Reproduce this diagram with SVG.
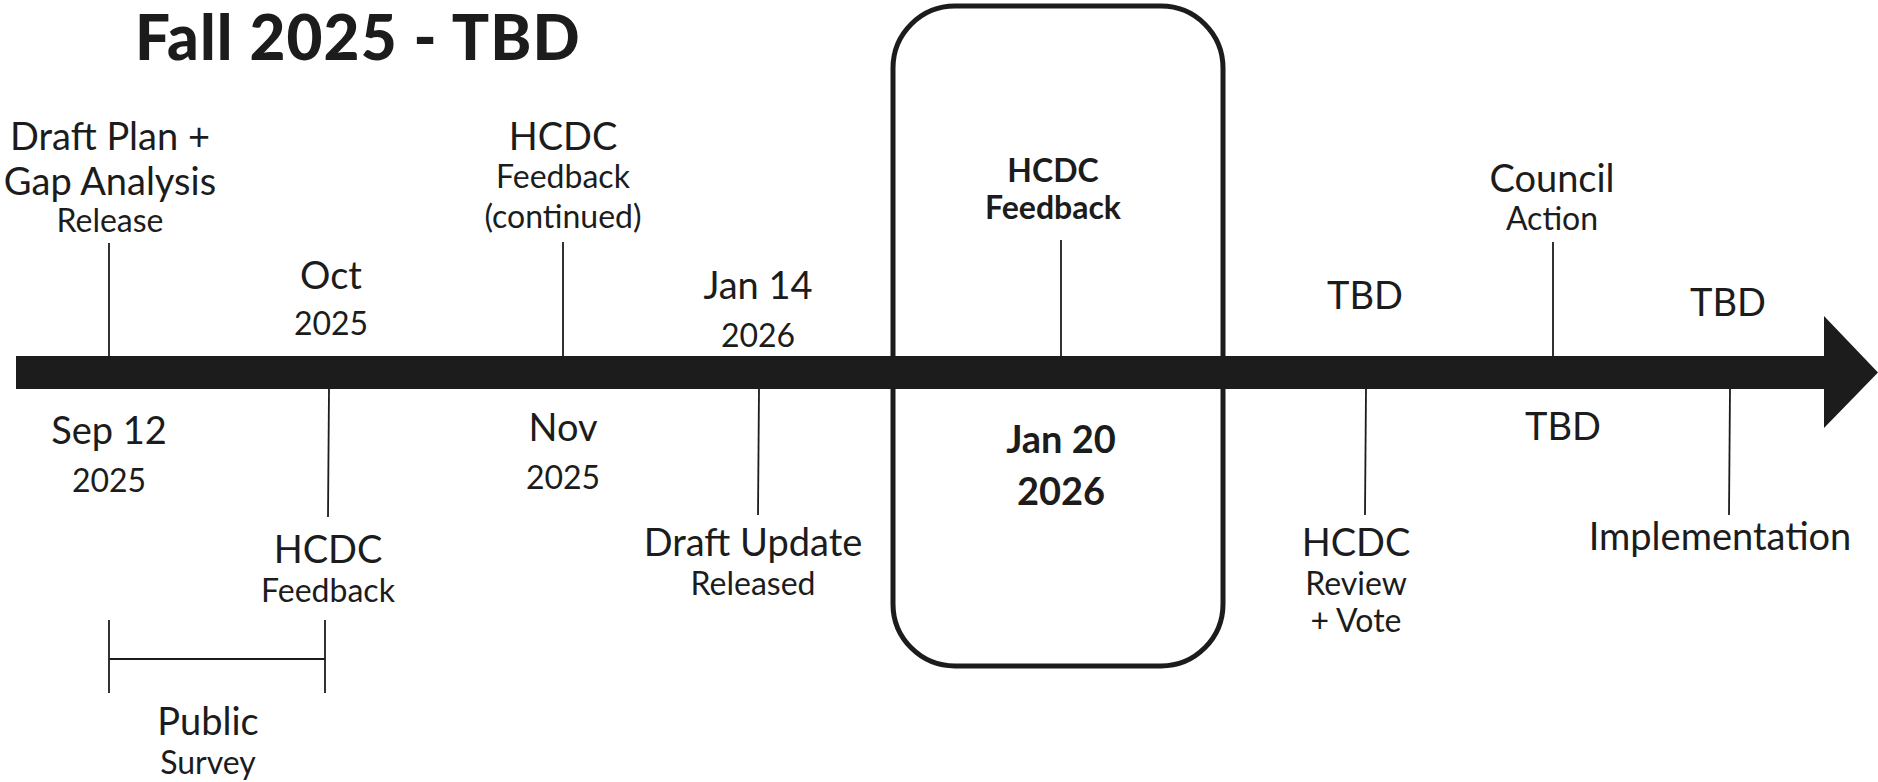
<svg xmlns="http://www.w3.org/2000/svg" width="1878" height="782" viewBox="0 0 1878 782">
<style>
text{font-family:Lato,"Liberation Sans",sans-serif;fill:#1c1c1c;text-anchor:middle}
.L{font-size:38px}
.S{font-size:32px}
.B{font-weight:700}
.title{font-size:62px;font-weight:900;text-anchor:start;letter-spacing:1.1px}
.tick{stroke:#1c1c1c;stroke-width:1.8;fill:none}
</style>
<rect width="1878" height="782" fill="#ffffff"/>
<text class="title" x="135" y="60">Fall 2025 - TBD</text>
<g id="focus-box"><rect x="893" y="6" width="330" height="660" rx="62" fill="none" stroke="#1c1c1c" stroke-width="5"/></g>
<g id="timeline"><path d="M16 356 H1824 V316 L1878 372.5 L1824 428 V389 H16 Z" fill="#1c1c1c"/></g>
<g id="connectors">
<line class="tick" x1="109" y1="243" x2="109" y2="356"/>
<line class="tick" x1="329" y1="389" x2="328" y2="517"/>
<line class="tick" x1="563" y1="242" x2="563" y2="356"/>
<line class="tick" x1="759" y1="389" x2="758" y2="515"/>
<line class="tick" x1="1061" y1="240" x2="1061" y2="356"/>
<line class="tick" x1="1366" y1="389" x2="1365" y2="515"/>
<line class="tick" x1="1553" y1="242" x2="1553" y2="356"/>
<line class="tick" x1="1730" y1="389" x2="1729" y2="515"/>
<line class="tick" x1="109" y1="620" x2="109" y2="693"/>
<line class="tick" x1="325" y1="620" x2="325" y2="693"/>
<line class="tick" x1="109" y1="659" x2="325" y2="659"/>
</g>
<g id="n-draft-plan"><text class="L" x="110" y="150">Draft Plan +</text><text class="L" x="110" y="195">Gap Analysis</text><text class="S" x="110" y="232">Release</text></g>
<g id="n-sep12"><text class="L" x="109" y="444">Sep 12</text><text class="S" x="109" y="492">2025</text></g>
<g id="n-oct"><text class="L" x="331" y="289">Oct</text><text class="S" x="331" y="335">2025</text></g>
<g id="n-hcdc-feedback"><text class="L" x="328" y="563">HCDC</text><text class="S" x="328" y="602">Feedback</text></g>
<g id="n-hcdc-cont"><text class="L" x="563" y="150">HCDC</text><text class="S" x="563" y="188">Feedback</text><text class="S" x="563" y="228">(continued)</text></g>
<g id="n-nov"><text class="L" x="563" y="441">Nov</text><text class="S" x="563" y="489">2025</text></g>
<g id="n-jan14"><text class="L" x="758" y="299">Jan 14</text><text class="S" x="758" y="347">2026</text></g>
<g id="n-draft-update"><text class="L" x="753" y="556">Draft Update</text><text class="S" x="753" y="595">Released</text></g>
<g id="n-hcdc-bold"><text class="S B" x="1053" y="182">HCDC</text><text class="S B" x="1053" y="219">Feedback</text></g>
<g id="n-jan20"><text class="L B" x="1061" y="453">Jan 20</text><text class="L B" x="1061" y="505">2026</text></g>
<g id="n-tbd1"><text class="L" x="1365" y="309">TBD</text></g>
<g id="n-hcdc-review"><text class="L" x="1356" y="556">HCDC</text><text class="S" x="1356" y="595">Review</text><text class="S" x="1356" y="632">+ Vote</text></g>
<g id="n-council"><text class="L" x="1552" y="192">Council</text><text class="S" x="1552" y="230">Action</text></g>
<g id="n-tbd3"><text class="L" x="1563" y="440">TBD</text></g>
<g id="n-tbd2"><text class="L" x="1728" y="316">TBD</text></g>
<g id="n-implementation"><text class="L" x="1720" y="550">Implementation</text></g>
<g id="n-public-survey"><text class="L" x="208" y="735">Public</text><text class="S" x="208" y="774">Survey</text></g>
</svg>
